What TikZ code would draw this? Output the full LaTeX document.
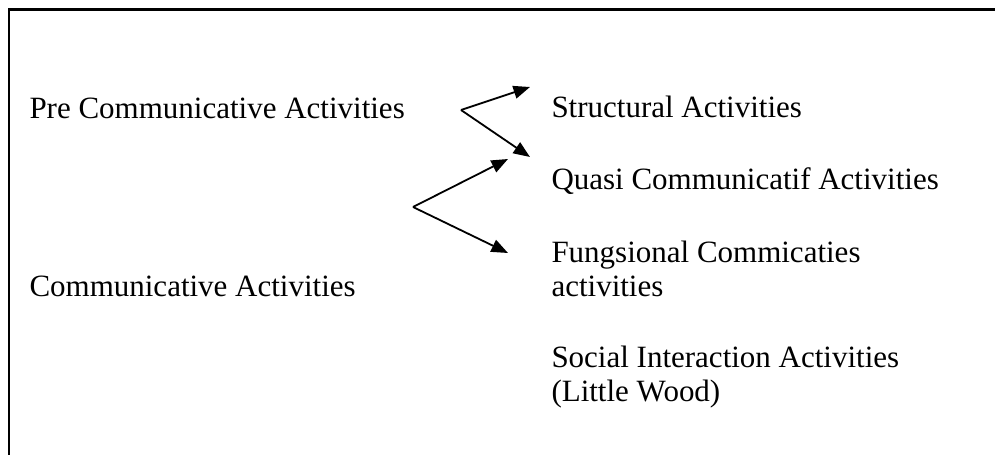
\documentclass[tikz,border=0pt]{standalone}
\usepackage{fontspec}
\setmainfont{Liberation Serif}
\usetikzlibrary{arrows.meta}
\tikzset{
	label/.style={anchor=base west, inner sep=0pt, align=left, font=\fontsize{12}{13.55}\selectfont},
	branch/.style={line width=0.7pt, -{Triangle[length=6.4pt, width=5pt]}}
}

\begin{document}
\begin{tikzpicture}[x=0.01361cm, y=-0.01361cm]
		%%%%% START %%%%%
		\useasboundingbox (0, 0) rectangle (995, 455);
		\draw[line width=0.8pt] (9, 455) -- (9, 9.5) -- (995, 9.5);
		
		\node[label] (pre) at (29, 119) {Pre Communicative Activities};
		\node[label] (comm) at (29, 297) {Communicative Activities};
		
		\node[label] (struct) at (551, 118) {Structural Activities};
		\node[label] (quasi) at (551, 190) {Quasi Communicatif Activities};
		% two-line labels sit on the baseline of their last line
		\node[label] (fung) at (551, 297) {Fungsional Commicaties\\activities};
		\node[label] (social) at (551, 402) {Social Interaction Activities\\(Little Wood)};
		
		\coordinate (v1) at (461, 110);
		\coordinate (v2) at (413, 207);
		\coordinate (t1) at (530, 87);
		\coordinate (t2) at (530, 157);
		\coordinate (t3) at (508, 159);
		\coordinate (t4) at (508, 253);
		
		\draw[branch] (v1) -- (t1);
		\draw[branch] (v1) -- (t2);
		\draw[branch] (v2) -- (t3);
		\draw[branch] (v2) -- (t4);
		%%%%% END %%%%%
	\end{tikzpicture}
\end{document}
